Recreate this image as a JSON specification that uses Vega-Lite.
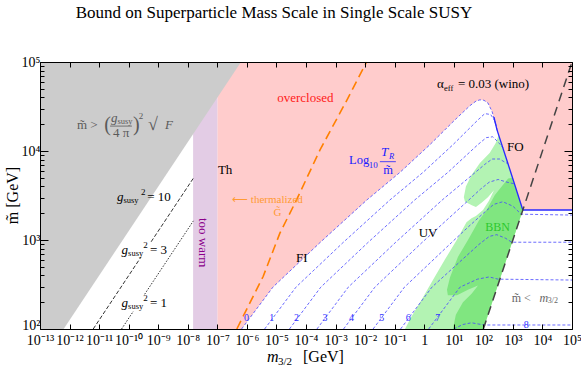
{
"$schema":"https://vega.github.io/schema/vega-lite/v6.json",
"width":532,"height":267,"autosize":"none",
"padding":{"left":40,"top":62,"right":9,"bottom":39},
"background":"white",
"config":{"view":{"stroke":null},"text":{"font":"Liberation Serif"}},
"title":{"text":"Bound on Superparticle Mass Scale in Single Scale SUSY","font":"Liberation Serif","fontSize":17,"fontWeight":"normal","color":"black","anchor":"middle","dx":-32,"offset":20,"baseline":"alphabetic"},
"resolve":{"axis":{"x":"independent","y":"independent"}},
"encoding":{
 "x":{"field":"x","type":"quantitative","scale":{"domain":[-13,5],"nice":false,"zero":false},"axis":null},
 "y":{"field":"y","type":"quantitative","scale":{"domain":[2,5],"nice":false,"zero":false},"axis":null}
},
"datasets":{
 "bands":[{"region":"overclosed","x":-7,"x2":5,"y":2,"y2":5},{"region":"too warm","x":-7.82,"x2":-7,"y":2,"y2":5}],
 "uv_region":[{"x":-6.18,"y":2.0},{"x":-5.12,"y":2.47},{"x":-3.53,"y":2.97},{"x":-1.94,"y":3.45},{"x":-0.82,"y":3.76},{"x":0.19,"y":4.07},{"x":1.04,"y":4.35},{"x":1.55,"y":4.51},{"x":1.75,"y":4.56},{"x":1.885,"y":4.575},{"x":2.02,"y":4.57},{"x":2.155,"y":4.54},{"x":2.3,"y":4.44},{"x":2.46,"y":4.24},{"x":2.9,"y":3.78},{"x":3.337,"y":3.337},{"x":5,"y":3.337},{"x":5,"y":2},{"x":-6.18,"y":2}],
 "bbn_light":[{"x":-0.65,"y":2.0},{"x":-0.43,"y":2.14},{"x":-0.09,"y":2.33},{"x":0.295,"y":2.55},{"x":0.7,"y":2.78},{"x":1.1,"y":3.0},{"x":1.43,"y":3.2},{"x":1.6,"y":3.245},{"x":1.75,"y":3.27},{"x":1.99,"y":3.337},{"x":2.19,"y":3.44},{"x":2.36,"y":3.56},{"x":2.155,"y":3.48},{"x":1.95,"y":3.42},{"x":1.75,"y":3.37},{"x":1.61,"y":3.39},{"x":1.38,"y":3.43},{"x":1.34,"y":3.48},{"x":1.41,"y":3.6},{"x":1.6,"y":3.73},{"x":1.885,"y":3.865},{"x":2.22,"y":3.98},{"x":2.42,"y":4.09},{"x":2.52,"y":4.18},{"x":2.9,"y":3.79},{"x":3.337,"y":3.337},{"x":2.0,"y":2.0}],
 "bbn_dark":[{"x":2.99,"y":3.7},{"x":2.84,"y":3.69},{"x":2.62,"y":3.6},{"x":2.39,"y":3.506},{"x":2.11,"y":3.337},{"x":1.85,"y":3.22},{"x":1.48,"y":3.0},{"x":1.14,"y":2.81},{"x":0.87,"y":2.58},{"x":0.77,"y":2.44},{"x":0.8,"y":2.38},{"x":1.11,"y":2.38},{"x":1.48,"y":2.44},{"x":1.82,"y":2.49},{"x":1.61,"y":2.4},{"x":1.31,"y":2.3},{"x":1.07,"y":2.16},{"x":0.97,"y":2.0},{"x":2.0,"y":2.0},{"x":3.337,"y":3.337}],
 "susy_bound":[{"x":-13,"y":2},{"x":-12.2,"y":2},{"x":-6.2,"y":5},{"x":-13,"y":5}],
 "contours":[
  {"k":0,"x":-6.18,"y":2.0},{"k":0,"x":-5.12,"y":2.47},{"k":0,"x":-3.53,"y":2.97},{"k":0,"x":-1.94,"y":3.45},{"k":0,"x":-0.82,"y":3.76},{"k":0,"x":0.19,"y":4.07},{"k":0,"x":1.04,"y":4.35},{"k":0,"x":1.55,"y":4.51},{"k":0,"x":1.75,"y":4.56},{"k":0,"x":1.885,"y":4.575},{"k":0,"x":2.02,"y":4.57},{"k":0,"x":2.155,"y":4.54},{"k":0,"x":2.3,"y":4.44},{"k":0,"x":2.42,"y":4.29},
  {"k":1,"x":-5.4,"y":2.0},{"k":1,"x":-4.34,"y":2.47},{"k":1,"x":-2.75,"y":2.97},{"k":1,"x":-1.16,"y":3.45},{"k":1,"x":-0.04,"y":3.76},{"k":1,"x":0.97,"y":4.07},{"k":1,"x":1.82,"y":4.35},{"k":1,"x":2.05,"y":4.42},{"k":1,"x":2.25,"y":4.41},{"k":1,"x":2.4,"y":4.33},{"k":1,"x":2.5,"y":4.2},
  {"k":2,"x":-4.56,"y":2.0},{"k":2,"x":-3.5,"y":2.47},{"k":2,"x":-1.91,"y":2.97},{"k":2,"x":-0.32,"y":3.45},{"k":2,"x":0.8,"y":3.76},{"k":2,"x":1.81,"y":4.07},{"k":2,"x":2.1,"y":4.15},{"k":2,"x":2.32,"y":4.16},{"k":2,"x":2.5,"y":4.1},{"k":2,"x":2.66,"y":4.04},
  {"k":3,"x":-3.63,"y":2.0},{"k":3,"x":-2.57,"y":2.47},{"k":3,"x":-0.98,"y":2.97},{"k":3,"x":0.61,"y":3.45},{"k":3,"x":1.73,"y":3.76},{"k":3,"x":2.05,"y":3.85},{"k":3,"x":2.3,"y":3.91},{"k":3,"x":2.55,"y":3.91},{"k":3,"x":2.75,"y":3.87},{"k":3,"x":2.83,"y":3.86},
  {"k":4,"x":-2.73,"y":2.0},{"k":4,"x":-1.67,"y":2.47},{"k":4,"x":-0.08,"y":2.97},{"k":4,"x":1.51,"y":3.45},{"k":4,"x":1.9,"y":3.57},{"k":4,"x":2.2,"y":3.65},{"k":4,"x":2.5,"y":3.68},{"k":4,"x":2.8,"y":3.65},{"k":4,"x":3.06,"y":3.63},
  {"k":5,"x":-1.73,"y":2.0},{"k":5,"x":-0.67,"y":2.47},{"k":5,"x":0.92,"y":2.97},{"k":5,"x":1.5,"y":3.15},{"k":5,"x":2.0,"y":3.3},{"k":5,"x":2.35,"y":3.4},{"k":5,"x":2.66,"y":3.43},{"k":5,"x":3.0,"y":3.38},{"k":5,"x":3.28,"y":3.29},{"k":5,"x":5,"y":3.28},
  {"k":6,"x":-0.8,"y":2.0},{"k":6,"x":0.26,"y":2.47},{"k":6,"x":1.85,"y":2.95},{"k":6,"x":2.2,"y":3.04},{"k":6,"x":2.45,"y":3.06},{"k":6,"x":2.75,"y":3.02},{"k":6,"x":2.96,"y":2.975},{"k":6,"x":5,"y":2.975},
  {"k":7,"x":0.15,"y":2.0},{"k":7,"x":1.21,"y":2.47},{"k":7,"x":1.8,"y":2.56},{"k":7,"x":2.2,"y":2.585},{"k":7,"x":2.5,"y":2.56},{"k":7,"x":5,"y":2.55},
  {"k":8,"x":1.0,"y":2.0},{"k":8,"x":1.3,"y":2.05},{"k":8,"x":1.6,"y":2.07},{"k":8,"x":1.85,"y":2.055},{"k":8,"x":2.05,"y":2.045},{"k":8,"x":5,"y":2.045}
 ],
 "contour_labels":[{"x":-6.01,"y":2.124,"text":"0"},{"x":-5.16,"y":2.124,"text":"1"},{"x":-4.32,"y":2.124,"text":"2"},{"x":-3.36,"y":2.124,"text":"3"},{"x":-2.46,"y":2.124,"text":"4"},{"x":-1.44,"y":2.124,"text":"5"},{"x":-0.54,"y":2.124,"text":"6"},{"x":0.46,"y":2.124,"text":"7"},{"x":3.45,"y":2.045,"text":"8"}],
 "freeze_out":[{"x":2.36,"y":4.38},{"x":2.46,"y":4.24},{"x":2.9,"y":3.79},{"x":3.337,"y":3.337},{"x":5,"y":3.337}],
 "mtilde_eq_m32":[{"x":2,"y":2},{"x":5,"y":5}],
 "thermalized":[{"x":-6.34,"y":2.0},{"x":-5.45,"y":2.59},{"x":-4.88,"y":3.08},{"x":-4.32,"y":3.45},{"x":-3.53,"y":4.01},{"x":-2.62,"y":4.57},{"x":-1.95,"y":5.0}],
 "gsusy3":[{"seg":"a","x":-11.2,"y":2.0},{"seg":"a","x":-9.58,"y":2.81},{"seg":"b","x":-9.24,"y":2.98},{"seg":"b","x":-7.81,"y":3.695}],
 "gsusy1":[{"seg":"a","x":-10.24,"y":2.0},{"seg":"a","x":-9.84,"y":2.2},{"seg":"b","x":-9.46,"y":2.39},{"seg":"b","x":-7.81,"y":3.215}],
 "black_left":[{"x":-6.98,"y":3.79,"text":"Th"},{"x":2.8,"y":4.045,"text":"FO"},{"x":0.43,"y":4.75,"text":"α"},{"x":1.14,"y":4.75,"text":"= 0.03 (wino)"},{"x":-9.37,"y":3.483,"text":"= 10"},{"x":-9.28,"y":2.89,"text":"= 3"},{"x":-9.28,"y":2.29,"text":"= 1"}],
 "black_center":[{"x":-4.14,"y":2.8,"text":"FI"},{"x":0.13,"y":3.08,"text":"UV"}],
 "black_italic":[{"x":-10.395,"y":3.483,"text":"g"},{"x":-10.24,"y":2.89,"text":"g"},{"x":-10.24,"y":2.29,"text":"g"}],
 "black_sub":[{"x":-10.175,"y":3.449,"text":"susy"},{"x":-10.02,"y":2.854,"text":"susy"},{"x":-10.02,"y":2.258,"text":"susy"},{"x":0.667,"y":4.71,"text":"eff"}],
 "black_sup":[{"x":-9.58,"y":3.539,"text":"2"},{"x":-9.51,"y":2.944,"text":"2"},{"x":-9.51,"y":2.345,"text":"2"}],
 "gray_text":[{"x":-11.75,"y":4.29,"text":"m̃ >"},{"x":-10.53,"y":4.2,"text":"4 π"}],
 "gray_paren":[{"x":-10.83,"y":4.29,"text":"("},{"x":-9.85,"y":4.29,"text":")"}],
 "gray_italic":[{"x":-10.6,"y":4.37,"text":"g"},{"x":-8.77,"y":4.29,"text":"F"}],
 "gray_sub":[{"x":-10.38,"y":4.335,"text":"susy"}],
 "gray_sup":[{"x":-9.66,"y":4.39,"text":"2"}],
 "gray_root":[{"x":-9.35,"y":4.29,"text":"√"}],
 "gray_bar":[{"x":-10.63,"x2":-9.89,"y":4.28}],
 "blue_big":[{"x":-2.545,"y":3.9,"text":"Log"}],
 "blue_small":[{"x":-1.88,"y":3.84,"text":"10"}],
 "blue_T":[{"x":-1.46,"y":3.99,"text":"T"}],
 "blue_R":[{"x":-1.19,"y":3.94,"text":"R"}],
 "blue_m":[{"x":-1.39,"y":3.79,"text":"m̃"}],
 "blue_bar":[{"x":-1.5,"x2":-0.96,"y":3.88}],
 "red_text":[{"x":-4.02,"y":4.6,"text":"overclosed"}],
 "orange_text":[{"x":-6.5,"y":3.45,"text":"⟵ thermalized"},{"x":-5.1,"y":3.3,"text":"G̃"}],
 "purple_text":[{"x":-7.49,"y":2.97,"text":"too warm"}],
 "green_text":[{"x":2.48,"y":3.15,"text":"BBN"}],
 "gray2_text":[{"x":2.96,"y":2.35,"text":"m̃ <"}],
 "gray2_italic":[{"x":3.9,"y":2.35,"text":"m"}],
 "gray2_sub":[{"x":4.18,"y":2.31,"text":"3/2"}],
 "xtitle_m":[{"x":-5.32,"y":1.629,"text":"m"}],
 "xtitle_sub":[{"x":-4.95,"y":1.59,"text":"3/2"}],
 "xtitle_unit":[{"x":-4.1,"y":1.629,"text":"[GeV]"}]
},
"layer":[
 {"data":{"name":"bands"},"mark":{"type":"rect"},
  "encoding":{
   "x":{"field":"x","type":"quantitative","scale":{"domain":[-13,5],"nice":false,"zero":false},
    "axis":{"orient":"bottom","values":[-13,-12,-11,-10,-9,-8,-7,-6,-5,-4,-3,-2,-1,0,1,2,3,4,5],
     "labelExpr":"['10⁻¹³','10⁻¹²','10⁻¹¹','10⁻¹⁰','10⁻⁹','10⁻⁸','10⁻⁷','10⁻⁶','10⁻⁵','10⁻⁴','10⁻³','10⁻²','10⁻¹','1','10¹','10²','10³','10⁴','10⁵'][round(datum.value)+13]",
     "tickSize":-5,"tickColor":"black","domainColor":"black","labelFont":"Liberation Serif","labelFontSize":14,"labelColor":"black","labelPadding":9,"grid":false,"title":null,"zindex":1,"labelFlush":false,"labelOverlap":false,"labelBound":false}},
   "x2":{"field":"x2"},
   "y":{"field":"y","type":"quantitative","scale":{"domain":[2,5],"nice":false,"zero":false},
    "axis":{"orient":"left","values":[2,2.30103,2.47712,2.60206,2.69897,2.77815,2.8451,2.90309,2.95424,3,3.30103,3.47712,3.60206,3.69897,3.77815,3.8451,3.90309,3.95424,4,4.30103,4.47712,4.60206,4.69897,4.77815,4.8451,4.90309,4.95424,5],
     "labelExpr":"abs(datum.value - round(datum.value)) < 0.001 ? ['10²','10³','10⁴','10⁵'][round(datum.value)-2] : ''",
     "labelOffset":{"condition":{"test":"datum.value < 2.001","value":-4},"value":0},
     "tickSize":{"condition":{"test":"abs(datum.value - round(datum.value)) < 0.001","value":-8},"value":-4},
     "tickColor":"black","domainColor":"black","labelFont":"Liberation Serif","labelFontSize":14,"labelColor":"black","labelPadding":8,"grid":false,"zindex":1,"labelOverlap":false,"labelFlush":false,
     "title":"m̃  [GeV]","titleFont":"Liberation Serif","titleFontSize":16,"titleFontWeight":"normal","titleColor":"black","titleX":-28,"titleY":133,"titleAngle":270,"titleAlign":"center","titleBaseline":"middle"}},
   "y2":{"field":"y2"},
   "color":{"field":"region","type":"nominal","scale":{"domain":["overclosed","too warm"],"range":["#FFCCCC","#E3CCE5"]},"legend":null}
  }},
 {"data":{"name":"uv_region"},"mark":{"type":"line","fill":"white","strokeWidth":0},
  "encoding":{
   "x":{"field":"x","type":"quantitative","scale":{"domain":[-13,5],"nice":false,"zero":false},
    "axis":{"orient":"top","values":[-13,-12,-11,-10,-9,-8,-7,-6,-5,-4,-3,-2,-1,0,1,2,3,4,5],"labels":false,"tickSize":-5,"tickColor":"black","domainColor":"black","grid":false,"title":null,"zindex":1}},
   "y":{"field":"y","type":"quantitative","scale":{"domain":[2,5],"nice":false,"zero":false},
    "axis":{"orient":"right","values":[2,2.30103,2.47712,2.60206,2.69897,2.77815,2.8451,2.90309,2.95424,3,3.30103,3.47712,3.60206,3.69897,3.77815,3.8451,3.90309,3.95424,4,4.30103,4.47712,4.60206,4.69897,4.77815,4.8451,4.90309,4.95424,5],"labels":false,
     "tickSize":{"condition":{"test":"abs(datum.value - round(datum.value)) < 0.001","value":-8},"value":-4},"tickColor":"black","domainColor":"black","grid":false,"title":null,"zindex":1}},
   "order":{"value":null}
  }},
 {"data":{"name":"bbn_light"},"mark":{"type":"line","fill":"#B3F3B3","strokeWidth":0},"encoding":{"order":{"value":null}}},
 {"data":{"name":"bbn_dark"},"mark":{"type":"line","fill":"#80E680","strokeWidth":0},"encoding":{"order":{"value":null}}},
 {"data":{"name":"susy_bound"},"mark":{"type":"line","fill":"#CCCCCC","strokeWidth":0},"encoding":{"order":{"value":null}}},
 {"data":{"name":"contours"},"mark":{"type":"line","stroke":"#4646FF","strokeWidth":0.8,"strokeDash":[3,2]},"encoding":{"detail":{"field":"k","type":"nominal"},"order":{"value":null}}},
 {"data":{"name":"freeze_out"},"mark":{"type":"line","stroke":"#2828FF","strokeWidth":1.3},"encoding":{"order":{"value":null}}},
 {"data":{"name":"mtilde_eq_m32"},"mark":{"type":"line","stroke":"#444444","strokeWidth":1.5,"strokeDash":[9,6]},"encoding":{"order":{"value":null}}},
 {"data":{"name":"thermalized"},"mark":{"type":"line","stroke":"#FF8000","strokeWidth":1.6,"strokeDash":[9,5]},"encoding":{"order":{"value":null}}},
 {"data":{"name":"gsusy3"},"mark":{"type":"line","stroke":"#333333","strokeWidth":1,"strokeDash":[4,2]},"encoding":{"detail":{"field":"seg","type":"nominal"},"order":{"value":null}}},
 {"data":{"name":"gsusy1"},"mark":{"type":"line","stroke":"#333333","strokeWidth":1,"strokeDash":[1.5,1.5]},"encoding":{"detail":{"field":"seg","type":"nominal"},"order":{"value":null}}},
 {"data":{"name":"contour_labels"},"mark":{"type":"text","font":"Liberation Serif","fontSize":10,"color":"#3030FF","align":"center","baseline":"middle"},"encoding":{"text":{"field":"text"}}},
 {"data":{"name":"black_left"},"mark":{"type":"text","font":"Liberation Serif","fontSize":13,"color":"black","align":"left","baseline":"middle"},"encoding":{"text":{"field":"text"}}},
 {"data":{"name":"black_center"},"mark":{"type":"text","font":"Liberation Serif","fontSize":13,"color":"black","align":"center","baseline":"middle"},"encoding":{"text":{"field":"text"}}},
 {"data":{"name":"black_italic"},"mark":{"type":"text","font":"Liberation Serif","fontSize":13,"fontStyle":"italic","color":"black","align":"left","baseline":"middle"},"encoding":{"text":{"field":"text"}}},
 {"data":{"name":"black_sub"},"mark":{"type":"text","font":"Liberation Serif","fontSize":8.5,"color":"black","align":"left","baseline":"middle"},"encoding":{"text":{"field":"text"}}},
 {"data":{"name":"black_sup"},"mark":{"type":"text","font":"Liberation Serif","fontSize":9,"color":"black","align":"left","baseline":"middle"},"encoding":{"text":{"field":"text"}}},
 {"data":{"name":"gray_text"},"mark":{"type":"text","font":"Liberation Serif","fontSize":13,"color":"#5A5A5A","align":"left","baseline":"middle"},"encoding":{"text":{"field":"text"}}},
 {"data":{"name":"gray_paren"},"mark":{"type":"text","font":"Liberation Serif","fontSize":20,"color":"#5A5A5A","align":"left","baseline":"middle"},"encoding":{"text":{"field":"text"}}},
 {"data":{"name":"gray_italic"},"mark":{"type":"text","font":"Liberation Serif","fontSize":13,"fontStyle":"italic","color":"#5A5A5A","align":"left","baseline":"middle"},"encoding":{"text":{"field":"text"}}},
 {"data":{"name":"gray_sub"},"mark":{"type":"text","font":"Liberation Serif","fontSize":8.5,"color":"#5A5A5A","align":"left","baseline":"middle"},"encoding":{"text":{"field":"text"}}},
 {"data":{"name":"gray_sup"},"mark":{"type":"text","font":"Liberation Serif","fontSize":9,"color":"#5A5A5A","align":"left","baseline":"middle"},"encoding":{"text":{"field":"text"}}},
 {"data":{"name":"gray_root"},"mark":{"type":"text","font":"Liberation Serif","fontSize":18,"color":"#5A5A5A","align":"left","baseline":"middle"},"encoding":{"text":{"field":"text"}}},
 {"data":{"name":"gray_bar"},"mark":{"type":"rule","color":"#5A5A5A","strokeWidth":0.8},"encoding":{"x2":{"field":"x2"}}},
 {"data":{"name":"blue_big"},"mark":{"type":"text","font":"Liberation Serif","fontSize":12.5,"color":"#2020FF","align":"left","baseline":"middle"},"encoding":{"text":{"field":"text"}}},
 {"data":{"name":"blue_small"},"mark":{"type":"text","font":"Liberation Serif","fontSize":9,"color":"#2020FF","align":"left","baseline":"middle"},"encoding":{"text":{"field":"text"}}},
 {"data":{"name":"blue_T"},"mark":{"type":"text","font":"Liberation Serif","fontSize":13,"fontStyle":"italic","color":"#2020FF","align":"left","baseline":"middle"},"encoding":{"text":{"field":"text"}}},
 {"data":{"name":"blue_R"},"mark":{"type":"text","font":"Liberation Serif","fontSize":8.5,"fontStyle":"italic","color":"#2020FF","align":"left","baseline":"middle"},"encoding":{"text":{"field":"text"}}},
 {"data":{"name":"blue_m"},"mark":{"type":"text","font":"Liberation Serif","fontSize":12.5,"color":"#2020FF","align":"left","baseline":"middle"},"encoding":{"text":{"field":"text"}}},
 {"data":{"name":"blue_bar"},"mark":{"type":"rule","color":"#2020FF","strokeWidth":0.8},"encoding":{"x2":{"field":"x2"}}},
 {"data":{"name":"red_text"},"mark":{"type":"text","font":"Liberation Serif","fontSize":13,"color":"#FF1A1A","align":"center","baseline":"middle"},"encoding":{"text":{"field":"text"}}},
 {"data":{"name":"orange_text"},"mark":{"type":"text","font":"Liberation Serif","fontSize":11,"color":"#FF9A33","align":"left","baseline":"middle"},"encoding":{"text":{"field":"text"}}},
 {"data":{"name":"purple_text"},"mark":{"type":"text","font":"Liberation Serif","fontSize":13,"color":"#8B008B","align":"center","baseline":"middle","angle":90},"encoding":{"text":{"field":"text"}}},
 {"data":{"name":"green_text"},"mark":{"type":"text","font":"Liberation Serif","fontSize":12,"color":"#2DC82D","align":"center","baseline":"middle"},"encoding":{"text":{"field":"text"}}},
 {"data":{"name":"gray2_text"},"mark":{"type":"text","font":"Liberation Serif","fontSize":12,"color":"#666666","align":"left","baseline":"middle"},"encoding":{"text":{"field":"text"}}},
 {"data":{"name":"gray2_italic"},"mark":{"type":"text","font":"Liberation Serif","fontSize":12,"fontStyle":"italic","color":"#666666","align":"left","baseline":"middle"},"encoding":{"text":{"field":"text"}}},
 {"data":{"name":"gray2_sub"},"mark":{"type":"text","font":"Liberation Serif","fontSize":8,"color":"#666666","align":"left","baseline":"middle"},"encoding":{"text":{"field":"text"}}},
 {"data":{"name":"xtitle_m"},"mark":{"type":"text","font":"Liberation Serif","fontSize":16,"fontStyle":"italic","color":"black","align":"left","baseline":"alphabetic"},"encoding":{"text":{"field":"text"}}},
 {"data":{"name":"xtitle_sub"},"mark":{"type":"text","font":"Liberation Serif","fontSize":11,"color":"black","align":"left","baseline":"alphabetic"},"encoding":{"text":{"field":"text"}}},
 {"data":{"name":"xtitle_unit"},"mark":{"type":"text","font":"Liberation Serif","fontSize":16,"color":"black","align":"left","baseline":"alphabetic"},"encoding":{"text":{"field":"text"}}}
]
}
